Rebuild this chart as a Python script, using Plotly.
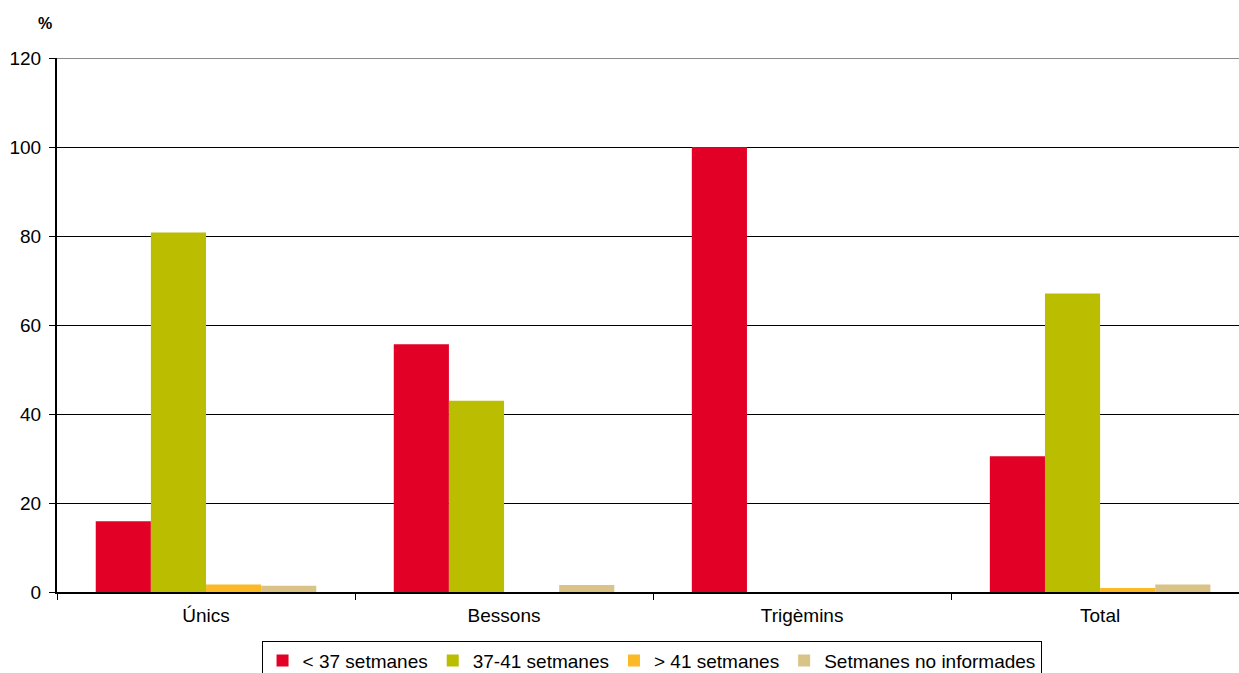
import plotly.graph_objects as go

# Percentatge de nascuts segons setmanes de gestació i tipus de part
categories = ["Únics", "Bessons", "Trigèmins", "Total"]
series_names = ["< 37 setmanes", "37-41 setmanes", "> 41 setmanes", "Setmanes no informades"]
menys_37 = [15.9, 55.7, 100.0, 30.5]
de_37_41 = [80.8, 43.0, 0.0, 67.1]
mes_41 = [1.7, 0.0, 0.0, 0.9]
no_informades = [1.4, 1.6, 0.0, 1.7]
y_ticks = [0, 20, 40, 60, 80, 100, 120]

colors = ["#E20026", "#BBBD00", "#FBB926", "#D9C386"]
values = [menys_37, de_37_41, mes_41, no_informades]

fig = go.Figure()
for name, vals, col in zip(series_names, values, colors):
    fig.add_trace(go.Bar(x=categories, y=vals, name=name, marker_color=col,
                         marker_line_width=0))

font = dict(family="Liberation Sans, Arial, sans-serif", size=19, color="#000000")

fig.update_layout(
    width=1239, height=673,
    margin=dict(l=57, r=0, t=58, b=81),
    paper_bgcolor="white", plot_bgcolor="white",
    barmode="group", bargap=0.26, bargroupgap=0,
    font=font,
    showlegend=True,
    legend=dict(orientation="h", x=0.503, xanchor="center",
                yref="container", y=0.048, yanchor="top",
                bordercolor="#000000", borderwidth=1, font=font,
                itemwidth=30, traceorder="normal", tracegroupgap=0),
    xaxis=dict(type="category", range=[-0.5, 3.466], showline=True,
               linecolor="#000000", linewidth=2,
               ticks="outside", tickson="boundaries", ticklen=6, tickcolor="#000000",
               ticklabelstandoff=5,
               showgrid=False, tickfont=font),
    yaxis=dict(range=[0, 120], tickvals=y_ticks, showline=True, linecolor="#000000",
               linewidth=2, ticks="outside", ticklen=6, tickcolor="#000000",
               ticklabelstandoff=4,
               showgrid=True, gridcolor="#000000", gridwidth=1, zeroline=False,
               tickfont=font),
    shapes=[dict(type="line", xref="paper", yref="y", x0=0, x1=1, y0=120, y1=120,
                 line=dict(color="#8C8C8C", width=2), layer="above")],
    annotations=[dict(text="<b>%</b>", xref="paper", yref="paper", x=-0.01, y=1.065,
                      xanchor="center", yanchor="middle", showarrow=False,
                      font=dict(family="Liberation Sans, Arial, sans-serif", size=16))],
)

fig.write_html("out.html")
